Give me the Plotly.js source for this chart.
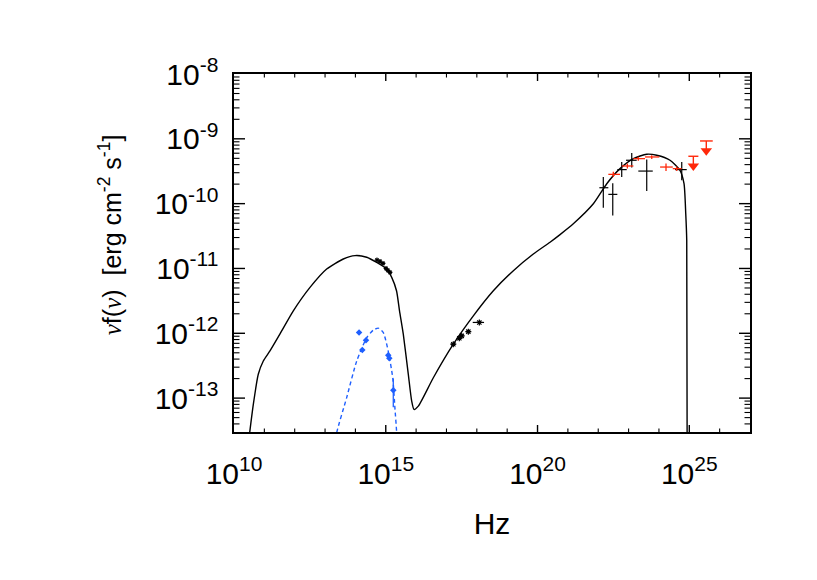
<!DOCTYPE html>
<html>
<head>
<meta charset="utf-8">
<script src="https://cdn.plot.ly/plotly-3.0.1.min.js"></script>
<style>html,body{margin:0;padding:0;background:#fff;}#chart{width:817px;height:580px;}</style>
</head>
<body>
<div id="chart"></div>
<script>
// ---- Model SED (black solid curve) ----
var modelNu = [2.63e10,4.33e10,6.31e10,9.23e10,1.53e11,3.28e11,9.0e11,3.19e12,1.13e13,3.99e13,9.70e13,2.36e14,5.04e14,1.07e15,1.57e15,2.26e15,2.84e15,3.78e15,5.53e15,7.16e15,8.53e15,1.18e16,3.69e16,1.68e17,7.67e17,3.50e18,1.60e19,7.28e19,2.58e20,5.51e20,1.51e21,6.90e21,1.91e22,5.22e22,1.44e23,3.96e23,8.47e23,2.32e24,4.95e24,6.71e24,7.64e24,8.24e24,8.51e24];
var modelFlux = [1.26e-14,7.98e-14,2.33e-13,3.74e-13,5.35e-13,9.79e-13,2.22e-12,5.11e-12,9.82e-12,1.40e-11,1.58e-11,1.49e-11,1.24e-11,9.82e-12,7.28e-12,4.53e-12,2.22e-12,9.68e-13,2.33e-13,8.97e-14,6.68e-14,7.52e-14,2.06e-13,6.78e-13,1.86e-12,4.53e-12,9.25e-12,1.67e-11,2.54e-11,3.33e-11,4.89e-11,9.95e-11,2.03e-10,3.47e-10,4.95e-10,5.78e-10,5.57e-10,4.67e-10,3.27e-10,2.03e-10,6.98e-11,2.69e-11,1.26e-14];

// ---- Host galaxy / blue dashed component ----
var hostNu = [2.0e13,2.40e13,5.13e13,1.10e14,2.34e14,3.89e14,5.68e14,8.32e14,1.20e15,1.70e15,2.0e15,2.29e15,2.40e15];
var hostFlux = [1.41e-14,2.88e-14,1.01e-13,3.72e-13,8.51e-13,1.12e-12,1.20e-12,1.02e-12,5.37e-13,2.04e-13,7.08e-14,2.88e-14,1.41e-14];

// ---- Blue data points ----
var blueNu = [1.32e14,1.69e14,2.23e14,1.21e15,1.31e15,1.77e15];
var blueFlux = [1.03e-12,5.53e-13,7.82e-13,4.58e-13,4.12e-13,1.32e-13];
var blueFluxLo = [1.0e-12,5.3e-13,7.5e-13,4.2e-13,3.8e-13,7.2e-14];
var blueFluxHi = [1.06e-12,5.8e-13,8.1e-13,5.0e-13,4.5e-13,2.0e-13];

// ---- Optical (black) points ----
var optNu = [5.13e14,6.46e14,8.13e14,1.02e15,1.17e15,1.38e15];
var optFlux = [1.35e-11,1.29e-11,1.20e-11,1.0e-11,9.33e-12,8.71e-12];

// ---- X-ray (black) points ----
var xrayNu = [1.68e17,2.65e17,3.18e17,5.25e17,1.21e18];
var xrayFlux = [6.78e-13,8.39e-13,9.12e-13,1.06e-12,1.47e-12];
var xrayNuLo = [1.40e17,2.30e17,2.80e17,4.50e17,7.33e17];
var xrayNuHi = [2.00e17,3.00e17,3.60e17,6.10e17,1.73e18];

// ---- Gamma-ray (black) points ----
var gamNu = [1.47e22,3.01e22,5.94e22,1.27e23,3.96e23,5.64e24];
var gamFlux = [1.76e-10,1.39e-10,3.35e-10,4.67e-10,3.18e-10,3.35e-10];
var gamNuLo = [1.09e22,2.15e22,4.26e22,8.24e22,2.09e23,3.39e24];
var gamNuHi = [2.15e22,4.26e22,8.69e22,1.85e23,6.25e23,8.24e24];
var gamFluxLo = [8.65e-11,6.56e-11,2.57e-10,3.60e-10,1.56e-10,2.29e-10];
var gamFluxHi = [2.57e-10,2.07e-10,4.39e-10,6.05e-10,4.79e-10,4.39e-10];

// ---- Gamma-ray (red) points ----
var redNu = [3.14e22,9.10e22,2.09e23,5.79e23,1.71e24,3.85e24];
var redFlux = [2.83e-10,3.81e-10,4.95e-10,5.25e-10,3.67e-10,3.47e-10];
var redNuLo = [2.15e22,5.94e22,1.44e23,3.48e23,1.09e24,2.85e24];
var redNuHi = [5.22e22,1.44e23,3.48e23,1.03e24,2.85e24,5.64e24];
var redFluxLo = [2.58e-10,3.50e-10,4.60e-10,4.90e-10,3.20e-10,3.20e-10];
var redFluxHi = [3.10e-10,4.15e-10,5.30e-10,5.60e-10,4.15e-10,3.75e-10];

// ---- Red upper limits ----
var ulNu = [1.36e25,3.63e25];
var ulFlux = [5.38e-10,9.27e-10];
var ulNuLo = [9.31e24,2.26e25];
var ulNuHi = [1.99e25,5.92e25];

// ---- Axis ticks ----
var xTickVals = [1e10,1e15,1e20,1e25];
var xTickText = ['10<sup>10</sup>','10<sup>15</sup>','10<sup>20</sup>','10<sup>25</sup>'];
var yTickVals = [1e-13,1e-12,1e-11,1e-10,1e-9,1e-8];
var yTickText = ['10<sup>-13</sup>','10<sup>-12</sup>','10<sup>-11</sup>','10<sup>-10</sup>','10<sup>-9</sup>','10<sup>-8</sup>'];

var X_LOG_RANGE = [10, 27];
var Y_LOG_RANGE = [Math.log10(3e-14), -8];
var PLOT_W = 817 - 234 - 67, PLOT_H = 580 - 74 - 148;

function diff(a,b){return a.map(function(v,i){return v-b[i];});}

// Tick marks drawn as paper-referenced shapes (inside, mirrored on all sides)
var shapes = [];
function xf(v){return (Math.log10(v)-X_LOG_RANGE[0])/(X_LOG_RANGE[1]-X_LOG_RANGE[0]);}
function yf(v){return (Math.log10(v)-Y_LOG_RANGE[0])/(Y_LOG_RANGE[1]-Y_LOG_RANGE[0]);}
function addXTick(v,len,w){
  var p=xf(v); if(p<=0.001||p>=0.999) return;
  var l=len/PLOT_H;
  shapes.push({type:'line',xref:'paper',yref:'paper',x0:p,x1:p,y0:0,y1:l,line:{color:'#000',width:w},layer:'above'});
  shapes.push({type:'line',xref:'paper',yref:'paper',x0:p,x1:p,y0:1,y1:1-l,line:{color:'#000',width:w},layer:'above'});
}
function addYTick(v,len,w){
  var p=yf(v); if(p<=0.001||p>=0.999) return;
  var l=len/PLOT_W;
  shapes.push({type:'line',xref:'paper',yref:'paper',x0:0,x1:l,y0:p,y1:p,line:{color:'#000',width:w},layer:'above'});
  shapes.push({type:'line',xref:'paper',yref:'paper',x0:1,x1:1-l,y0:p,y1:p,line:{color:'#000',width:w},layer:'above'});
}
for (var e = 10; e <= 27; e++) { addXTick(Math.pow(10,e), (e % 5 === 0) ? 7 : 3.5, (e % 5 === 0) ? 1.4 : 1.1); }
for (var d = -14; d <= -8; d++) {
  addYTick(Math.pow(10,d), 11, 1.4);
  for (var m = 2; m <= 9; m++) addYTick(m*Math.pow(10,d), 5.5, 1.1);
}

var RED = 'rgb(255,40,10)';
var BLUE = 'rgb(30,95,255)';
var arrowDrop = Math.pow(10,-0.15);
var ulArrowY = ulFlux.map(function(v){return v*arrowDrop;});

var traces = [
  {x:modelNu,y:modelFlux,mode:'lines',line:{color:'black',width:1.4,shape:'spline',smoothing:0.6}},
  {x:hostNu,y:hostFlux,mode:'lines',line:{color:BLUE,width:1.4,dash:'4px,3px',shape:'spline',smoothing:0.6}},
  {x:blueNu,y:blueFlux,mode:'markers',marker:{color:BLUE,size:5,symbol:'diamond'},
   error_y:{type:'data',symmetric:false,array:diff(blueFluxHi,blueFlux),arrayminus:diff(blueFlux,blueFluxLo),color:BLUE,thickness:1.3,width:0}},
  {x:optNu,y:optFlux,mode:'markers',marker:{color:'black',size:4,symbol:'asterisk-open',line:{width:1.1,color:'black'}}},
  {x:xrayNu,y:xrayFlux,mode:'markers',marker:{color:'black',size:5,symbol:'asterisk-open',line:{width:1.2,color:'black'}},
   error_x:{type:'data',symmetric:false,array:diff(xrayNuHi,xrayNu),arrayminus:diff(xrayNu,xrayNuLo),color:'black',thickness:1.2,width:0}},
  {x:gamNu,y:gamFlux,mode:'markers',marker:{color:'black',size:1,opacity:0},
   error_x:{type:'data',symmetric:false,array:diff(gamNuHi,gamNu),arrayminus:diff(gamNu,gamNuLo),color:'black',thickness:1.2,width:0},
   error_y:{type:'data',symmetric:false,array:diff(gamFluxHi,gamFlux),arrayminus:diff(gamFlux,gamFluxLo),color:'black',thickness:1.2,width:0}},
  {x:redNu,y:redFlux,mode:'markers',marker:{color:RED,size:1,opacity:0},
   error_x:{type:'data',symmetric:false,array:diff(redNuHi,redNu),arrayminus:diff(redNu,redNuLo),color:RED,thickness:1.3,width:0},
   error_y:{type:'data',symmetric:false,array:diff(redFluxHi,redFlux),arrayminus:diff(redFlux,redFluxLo),color:RED,thickness:1.3,width:0}},
  {x:ulNu,y:ulFlux,mode:'markers',marker:{color:RED,size:1,opacity:0},
   error_x:{type:'data',symmetric:false,array:diff(ulNuHi,ulNu),arrayminus:diff(ulNu,ulNuLo),color:RED,thickness:1.4,width:0},
   error_y:{type:'data',symmetric:false,array:ulFlux.map(function(){return 0;}),arrayminus:diff(ulFlux,ulArrowY),color:RED,thickness:1.4,width:0}},
  {x:ulNu,y:ulArrowY,mode:'markers',marker:{color:RED,size:10,symbol:'triangle-down',line:{width:0}}}
];

var tickFont = {family:'Liberation Sans, Arial, sans-serif',size:30,color:'black'};
var layout = {
  width:817,height:580,
  margin:{l:234,r:67,t:74,b:148},
  paper_bgcolor:'white',plot_bgcolor:'white',
  showlegend:false,
  xaxis:{type:'log',range:X_LOG_RANGE,tickmode:'array',tickvals:xTickVals,ticktext:xTickText,
    ticks:'',showline:true,linecolor:'#000',linewidth:1.6,mirror:true,showgrid:false,zeroline:false,
    tickfont:tickFont,ticklabelstandoff:14,
    title:{text:'Hz',font:{family:'Liberation Sans, Arial, sans-serif',size:30,color:'black'},standoff:24}},
  yaxis:{type:'log',range:Y_LOG_RANGE,tickmode:'array',tickvals:yTickVals,ticktext:yTickText,
    ticks:'',showline:true,linecolor:'#000',linewidth:1.6,mirror:true,showgrid:false,zeroline:false,
    tickfont:tickFont,ticklabelstandoff:8},
  shapes:shapes,
  annotations:[{
    xref:'paper',yref:'paper',x:-0.24,y:0.55,xanchor:'center',yanchor:'middle',textangle:-90,showarrow:false,
    text:'<span style="font-family:\'Liberation Serif\';font-style:italic">ν</span>f(<span style="font-family:\'Liberation Serif\';font-style:italic">ν</span>)&nbsp;&nbsp;[erg cm<sup>-2</sup> s<sup>-1</sup>]',
    font:{family:'Liberation Sans, Arial, sans-serif',size:25,color:'black'}
  }]
};

Plotly.newPlot('chart',traces,layout,{staticPlot:true,displayModeBar:false});
</script>
</body>
</html>
